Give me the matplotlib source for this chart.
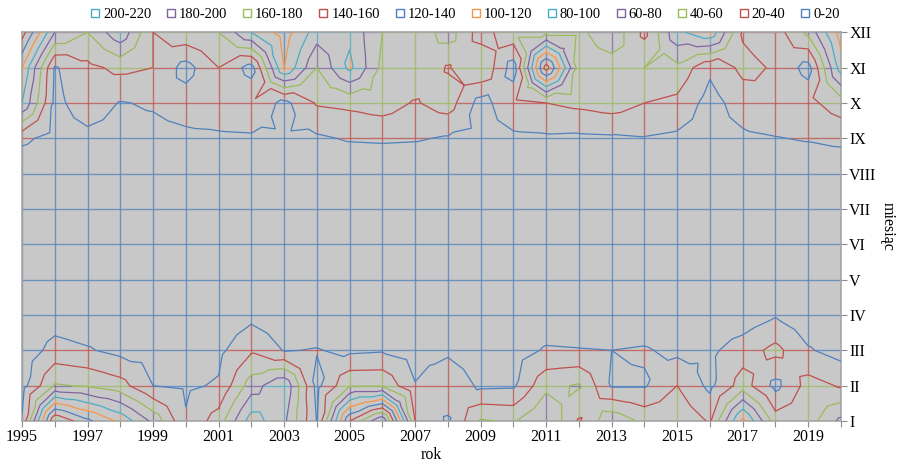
import numpy as np
import matplotlib.pyplot as plt
import matplotlib.tri as mtri
from matplotlib.collections import LineCollection
from matplotlib.lines import Line2D

plt.rcParams['font.family'] = ['Liberation Serif', 'DejaVu Serif']

years = list(range(1995, 2021))
months = ["I", "II", "III", "IV", "V", "VI", "VII", "VIII", "IX", "X", "XI", "XII"]
band_labels = ["0-20", "20-40", "40-60", "60-80", "80-100", "100-120",
               "120-140", "140-160", "160-180", "180-200", "200-220"]
band_colors = ["#4F81BD", "#C0504D", "#9BBB59", "#8064A2", "#4BACC6", "#F79646",
               "#4F81BD", "#C0504D", "#9BBB59", "#8064A2", "#4BACC6"]
levels = [20, 40, 60, 80, 100, 120, 140, 160, 180, 200, 220]

# monthly values, 1995..2020
jan = [22, 180, 145, 115, 75, 22, 50, 110, 85, 19, 160, 220, 40, 17, 62, 58, 80, 38, 75, 55, 55, 38, 125, 50, 50, 85]
feb = [12, 62, 58, 48, 20, 17, 22, 70, 98, 14, 58, 58, 21, 36, 16, 17, 55, 62, 18, 18, 40, 15, 50, 14, 48, 38]
mar = [8, 27, 22, 14, 12, 10, 15, 37, 19, 21, 16, 18, 12, 16, 8, 12, 22, 21, 20, 22, 15, 16, 30, 46, 22, 12]
apr = [4, 10, 6, 5, 4, 3, 5, 14, 8, 6, 4, 5, 3, 6, 3, 4, 8, 6, 5, 6, 4, 5, 7, 18, 6, 4]
may = [2, 3, 2, 2, 1, 2, 3, 2, 2, 3, 1, 2, 2, 2, 1, 2, 3, 2, 2, 2, 1, 2, 3, 2, 2, 2]
jun = [1, 1, 1, 1, 1, 1, 1, 1, 1, 1, 1, 1, 1, 1, 1, 1, 1, 1, 1, 1, 1, 1, 1, 1, 1, 1]
jul = [1, 1, 1, 1, 1, 1, 1, 1, 1, 1, 1, 1, 1, 1, 1, 1, 1, 1, 1, 1, 1, 1, 1, 1, 1, 1]
aug = [2, 2, 2, 2, 2, 2, 2, 2, 2, 2, 2, 2, 2, 2, 2, 2, 2, 2, 2, 2, 2, 2, 2, 2, 2, 2]
sep = [25, 12, 15, 14, 14, 15, 16, 17, 18, 17, 22, 23, 22, 18, 15, 16, 17, 16, 17, 19, 16, 12, 16, 19, 22, 26]
oct_ = [100, 15, 30, 19, 22, 30, 35, 38, 14, 42, 45, 50, 38, 50, 12, 35, 40, 45, 50, 40, 35, 12, 30, 40, 35, 50]
nov = [120, 18, 35, 45, 40, 12, 40, 12, 120, 60, 105, 55, 60, 38, 60, 10, 170, 50, 50, 60, 55, 24, 45, 38, 12, 110]
dec = [170, 80, 60, 95, 40, 55, 60, 100, 130, 90, 95, 60, 45, 70, 30, 55, 55, 55, 75, 35, 95, 115, 38, 30, 65, 130]

z = np.array([jan, feb, mar, apr, may, jun, jul, aug, sep, oct_, nov, dec], dtype=float)
ny, nx = z.shape
xs = np.array(years, dtype=float)
ys = np.arange(1, ny + 1, dtype=float)

# grid nodes plus one centre node per cell, four triangles per cell
gx, gy = np.meshgrid(xs, ys)
px = list(gx.ravel())
py = list(gy.ravel())
pz = list(z.ravel())
tris = []
for j in range(ny - 1):
    for i in range(nx - 1):
        a = j * nx + i
        b = a + 1
        d = a + nx
        c = d + 1
        e = len(px)
        px.append(xs[i] + 0.5)
        py.append(ys[j] + 0.5)
        pz.append((z[j, i] + z[j, i + 1] + z[j + 1, i] + z[j + 1, i + 1]) / 4)
        tris += [[a, b, e], [b, c, e], [c, d, e], [d, a, e]]
triang = mtri.Triangulation(px, py, tris)

fig = plt.figure(figsize=(8.98, 4.65), dpi=100)
ax = fig.add_axes([0.0245, 0.0946, 0.912, 0.836])
ax.set_facecolor("#c8c8c8")


def band_of(v):
    return int(np.clip(v // 20, 0, len(band_colors) - 1))


# wireframe: every grid line coloured by the band it passes through
segs, cols = [], []
n_sub = 40
t = np.linspace(0, 1, n_sub + 1)
for j in range(ny):
    for i in range(nx - 1):
        xx = xs[i] + t
        vv = z[j, i] + (z[j, i + 1] - z[j, i]) * t
        for k in range(n_sub):
            segs.append([(xx[k], ys[j]), (xx[k + 1], ys[j])])
            cols.append(band_colors[band_of((vv[k] + vv[k + 1]) / 2)])
for i in range(nx):
    for j in range(ny - 1):
        yy = ys[j] + t
        vv = z[j, i] + (z[j + 1, i] - z[j, i]) * t
        for k in range(n_sub):
            segs.append([(xs[i], yy[k]), (xs[i], yy[k + 1])])
            cols.append(band_colors[band_of((vv[k] + vv[k + 1]) / 2)])
ax.add_collection(LineCollection(segs, colors=cols, linewidths=0.9, zorder=2))

# contour at level L takes the colour of the band just below it
line_cols = [band_colors[levels.index(l)] for l in levels]
ax.tricontour(triang, pz, levels=levels, colors=line_cols, linewidths=0.9, zorder=3)

ax.set_xlim(1995, 2020)
ax.set_ylim(1, 12)
ax.set_xticks(years)
ax.set_xticklabels([str(y) if (y - 1995) % 2 == 0 else "" for y in years], fontsize=11.5)
ax.yaxis.tick_right()
ax.yaxis.set_label_position("right")
ax.set_yticks(ys)
ax.set_yticklabels(months, fontsize=11.5)
ax.tick_params(axis="both", length=4, width=0.8, color="#8c8c8c", pad=2)
for s in ax.spines.values():
    s.set_color("#a6a6a6")
    s.set_linewidth(1.2)
ax.set_xlabel("rok", fontsize=11.5, labelpad=1)
ax.set_ylabel("miesiąc", fontsize=11.5, rotation=270, labelpad=14)

handles = [Line2D([], [], marker="s", linestyle="none", markerfacecolor="none",
                  markeredgecolor=c, markersize=6, markeredgewidth=1.0)
           for c in band_colors][::-1]
fig.legend(handles, band_labels[::-1], loc="center", bbox_to_anchor=(0.518, 0.968),
           ncol=11, frameon=False, fontsize=10.5, handletextpad=0.25,
           columnspacing=1.05, handlelength=0.6, borderaxespad=0)

fig.savefig("out.png", dpi=100)
